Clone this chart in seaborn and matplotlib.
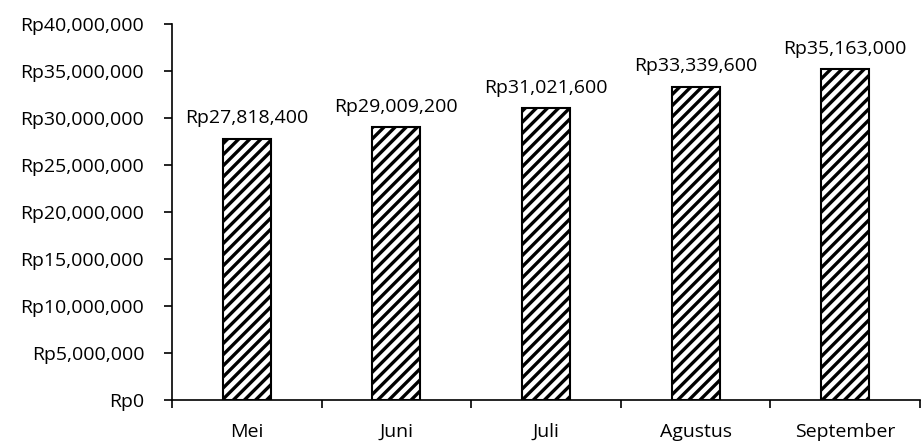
import matplotlib
matplotlib.use("Agg")
import matplotlib.pyplot as plt
import seaborn as sns
import numpy as np
from matplotlib.ticker import FuncFormatter, FixedLocator

months = ["Mei", "Juni", "Juli", "Agustus", "September"]
values = [27818400, 29009200, 31021600, 33339600, 35163000]
yticks = [0, 5000000, 10000000, 15000000, 20000000, 25000000, 30000000, 35000000, 40000000]

sns.set_theme(style="white")
plt.rcParams['font.family'] = ['Open Sans', 'DejaVu Sans']
plt.rcParams['text.color'] = 'black'
plt.rcParams['xtick.color'] = 'black'
plt.rcParams['ytick.color'] = 'black'
plt.rcParams['xtick.labelcolor'] = 'black'
plt.rcParams['ytick.labelcolor'] = 'black'
plt.rcParams['hatch.linewidth'] = 2.4
plt.rcParams['hatch.color'] = 'black'

FS = 14

fig = plt.figure(figsize=(9.21, 4.41), dpi=100)
ax = fig.add_axes([172/921, 1-400/441, 1-172/921 - 0.001, (400-24)/441])

sns.barplot(x=months, y=values, color="white", edgecolor="black",
            linewidth=1.5, width=0.32, ax=ax, saturation=1)
for p in ax.patches:
    p.set_hatch('///')
    p.set_facecolor('white')
    p.set_edgecolor('black')

ax.set_ylim(0, 40000000)
ax.set_xlim(-0.5, len(months) - 0.5)
ax.set_yticks(yticks)
ax.yaxis.set_major_formatter(FuncFormatter(lambda v, pos: f"Rp{v:,.0f}"))
ax.tick_params(axis='y', length=6, width=1.2, color='black', labelcolor='black', labelsize=FS, pad=14, direction='out', left=True)
ax.tick_params(axis='x', which='major', length=0, labelcolor='black', labelsize=FS, pad=16.5)
ax.xaxis.set_minor_locator(FixedLocator(np.arange(-0.5, len(months) + 0.5, 1)))
ax.tick_params(axis='x', which='minor', length=6, width=1.2, color='black', direction='out', bottom=True)

for c in ax.containers:
    ax.bar_label(c, labels=[f"Rp{v:,.0f}" for v in values], padding=8, fontsize=FS, color='black')

for s in ['top', 'right']:
    ax.spines[s].set_visible(False)
for s in ['left', 'bottom']:
    ax.spines[s].set_color('black')
    ax.spines[s].set_linewidth(1.2)
ax.set_xlabel("")
ax.set_ylabel("")

fig.savefig("out.png", dpi=100)
